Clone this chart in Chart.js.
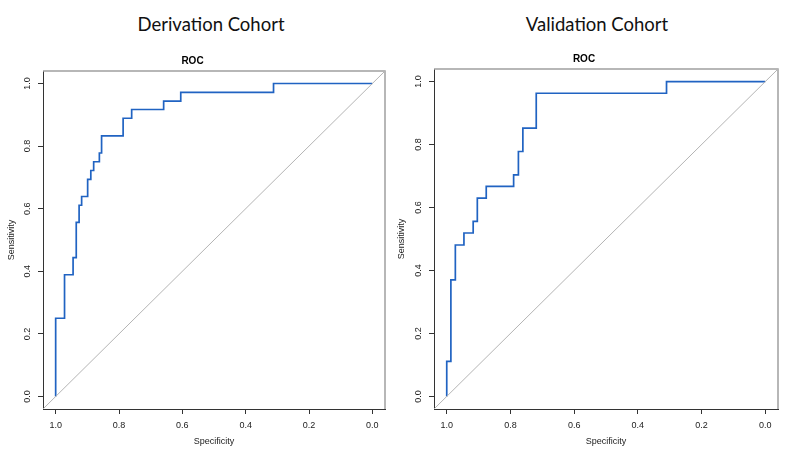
<!DOCTYPE html>
<html>
<head>
<meta charset="utf-8">
<script src="https://cdn.jsdelivr.net/npm/chart.js@4.4.0/dist/chart.umd.min.js"></script>
<style>
  body { margin: 0; background: #fff; width: 800px; height: 452px; position: relative; overflow: hidden; }
  .cohort { position: absolute; top: 13px; font-family: Lato, "Open Sans", sans-serif; font-size: 18.5px; color: #111; transform: translateX(-50%); white-space: nowrap; }
  canvas { position: absolute; top: 0; }
</style>
</head>
<body>
<div class="cohort" style="left:211px">Derivation Cohort</div>
<div class="cohort" style="left:597px">Validation Cohort</div>
<canvas id="deriv" width="400" height="452" style="left:0"></canvas>
<canvas id="valid" width="410" height="452" style="left:390px"></canvas>
<script>
// ROC corner points (specificity falls, sensitivity rises)
const derivSpecificity = [1, 0.972, 0.945, 0.935, 0.926, 0.918, 0.899, 0.889, 0.880, 0.862, 0.855, 0.787, 0.760, 0.659, 0.605, 0.312, 0];
const derivSensitivity = [0, 0.250, 0.389, 0.444, 0.556, 0.611, 0.639, 0.694, 0.722, 0.750, 0.778, 0.833, 0.889, 0.917, 0.944, 0.972, 1];

const validSpecificity = [1, 0.987, 0.973, 0.946, 0.917, 0.904, 0.876, 0.790, 0.775, 0.761, 0.719, 0.310, 0];
const validSensitivity = [0, 0.111, 0.370, 0.481, 0.519, 0.556, 0.630, 0.667, 0.704, 0.778, 0.852, 0.963, 1];

const tickValues = [0, 0.2, 0.4, 0.6, 0.8, 1.0];
const axisMin = -0.04;
const axisMax = 1.04;

const LINE_BLUE = '#2063c2';
const AXIS_DARK = '#333333';
const BOX_GRAY = '#a0a0a0';
const FONT = '"Liberation Sans", Arial, sans-serif';

// top and right sides of the plot box, drawn lighter like the original
const boxPlugin = {
  id: 'box',
  beforeDatasetsDraw(chart) {
    const { ctx, chartArea: a } = chart;
    ctx.save();
    ctx.strokeStyle = BOX_GRAY;
    ctx.lineWidth = 1.5;
    ctx.beginPath();
    ctx.moveTo(a.left, a.top);
    ctx.lineTo(a.right, a.top);
    ctx.lineTo(a.right, a.bottom);
    ctx.stroke();
    ctx.restore();
  }
};

function makeRoc(id, spec, sens, area) {
  const canvas = document.getElementById(id);
  const W = canvas.width, H = canvas.height;
  const toPoints = (xs, ys) => xs.map((x, i) => ({ x: x, y: ys[i] }));

  const axisCommon = {
    type: 'linear',
    min: axisMin,
    max: axisMax,
    afterBuildTicks: s => { s.ticks = tickValues.map(v => ({ value: v })); },
    grid: { drawOnChartArea: false, drawTicks: true, tickLength: 5, color: AXIS_DARK },
    border: { display: true, color: AXIS_DARK, width: 1 }
  };

  return new Chart(canvas.getContext('2d'), {
    type: 'line',
    data: {
      datasets: [
        {
          // chance line across the whole plot region
          data: toPoints([axisMax, axisMin], [axisMin, axisMax]),
          borderColor: '#b4b4b4',
          borderWidth: 1,
          pointRadius: 0
        },
        {
          data: toPoints(spec, sens),
          borderColor: LINE_BLUE,
          borderWidth: 1.7,
          pointRadius: 0,
          stepped: 'after'
        }
      ]
    },
    options: {
      responsive: false,
      animation: false,
      events: [],
      layout: { padding: { left: 0, right: W - area.right, top: 0, bottom: 0 } },
      plugins: {
        legend: { display: false },
        tooltip: { enabled: false },
        title: {
          display: true,
          text: 'ROC',
          color: '#000',
          font: { family: FONT, size: 10, weight: 'bold', lineHeight: 1.2 },
          padding: { top: area.top - 16, bottom: 4 }
        }
      },
      scales: {
        x: Object.assign({}, axisCommon, {
          reverse: true,
          afterFit: s => { s.height = H - area.bottom; },
          ticks: {
            color: '#222', padding: 6, maxRotation: 0,
            font: { family: FONT, size: 9 },
            callback: v => v.toFixed(1)
          },
          title: {
            display: true, text: 'Specificity', color: '#222',
            font: { family: FONT, size: 9 },
            padding: { top: 0, bottom: 5 }
          }
        }),
        y: Object.assign({}, axisCommon, {
          afterFit: s => { s.width = area.left; },
          ticks: {
            color: '#222', padding: 4, minRotation: 90, maxRotation: 90, crossAlign: 'center',
            font: { family: FONT, size: 9 },
            callback: v => v.toFixed(1)
          },
          title: {
            display: true, text: 'Sensitivity', color: '#222',
            font: { family: FONT, size: 9 },
            padding: { top: 6, bottom: 0 }
          }
        })
      }
    },
    plugins: [boxPlugin]
  });
}

makeRoc('deriv', derivSpecificity, derivSensitivity, { left: 43, right: 385, top: 71, bottom: 409 });
makeRoc('valid', validSpecificity, validSensitivity, { left: 44, right: 388, top: 69, bottom: 409 });
</script>
</body>
</html>
